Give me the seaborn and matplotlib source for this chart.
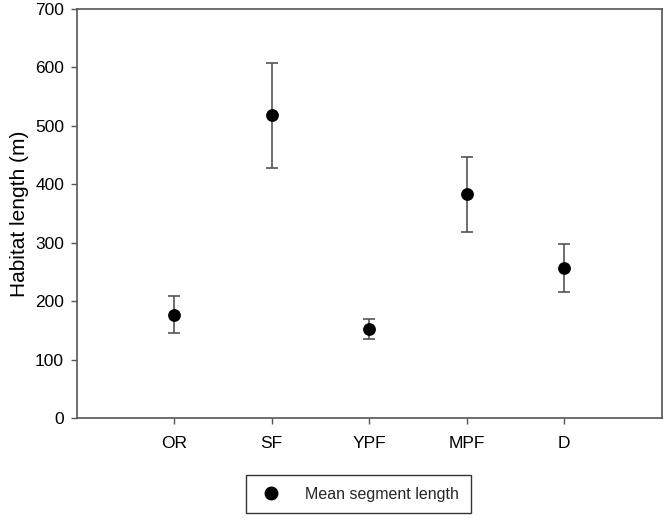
import matplotlib
matplotlib.use("Agg")
import matplotlib.pyplot as plt
import seaborn as sns
import numpy as np
import pandas as pd

categories = ["OR", "SF", "YPF", "MPF", "D"]
mean_length = [177, 518, 153, 383, 257]
error = [32, 90, 17, 64, 41]

sns.set_style("ticks")
plt.rcParams["font.family"] = ["Liberation Sans", "DejaVu Sans"]

df = pd.DataFrame({"Habitat": categories, "Length": mean_length, "Err": error})

fig = plt.figure(figsize=(6.64, 5.21), dpi=100)
ax = fig.add_axes([76.5 / 664, 1 - 418 / 521, (661.5 - 76.5) / 664, (418 - 9) / 521])

ax.errorbar(np.arange(len(categories)), df["Length"], yerr=df["Err"], fmt="none",
            ecolor="#555555", elinewidth=1.2, capsize=4, capthick=1.2, zorder=2)
sns.scatterplot(data=df, x="Habitat", y="Length", ax=ax, color="black", s=85,
                edgecolor="black", linewidth=0, zorder=3, label="Mean segment length",
                legend=False)

ax.set_xlim(-1, 5)
ax.set_ylim(0, 700)
ax.set_yticks(range(0, 701, 100))
ax.set_xlabel("")
ax.set_ylabel("Habitat length (m)", fontsize=15, color="black", labelpad=4)
ax.tick_params(axis="both", labelsize=12.5, colors="black", length=4, width=1)
ax.tick_params(axis="x", pad=9, color="#555555")
ax.tick_params(axis="y", pad=5, color="#555555")
for s in ax.spines.values():
    s.set_visible(True)
    s.set_color("#555555")
    s.set_linewidth(1.2)

handle = plt.Line2D([], [], marker="o", linestyle="none", color="black",
                    markersize=9)
leg = fig.legend([handle], ["Mean segment length"], loc="center",
                 bbox_to_anchor=(358.5 / 664, 1 - 494 / 521), frameon=True,
                 fancybox=False, fontsize=11.5, borderpad=0.75, handletextpad=1.3,
                 borderaxespad=0, handlelength=1.6)
leg.get_frame().set_edgecolor("black")
leg.get_frame().set_linewidth(1.0)

fig.savefig("out.png", dpi=100)
